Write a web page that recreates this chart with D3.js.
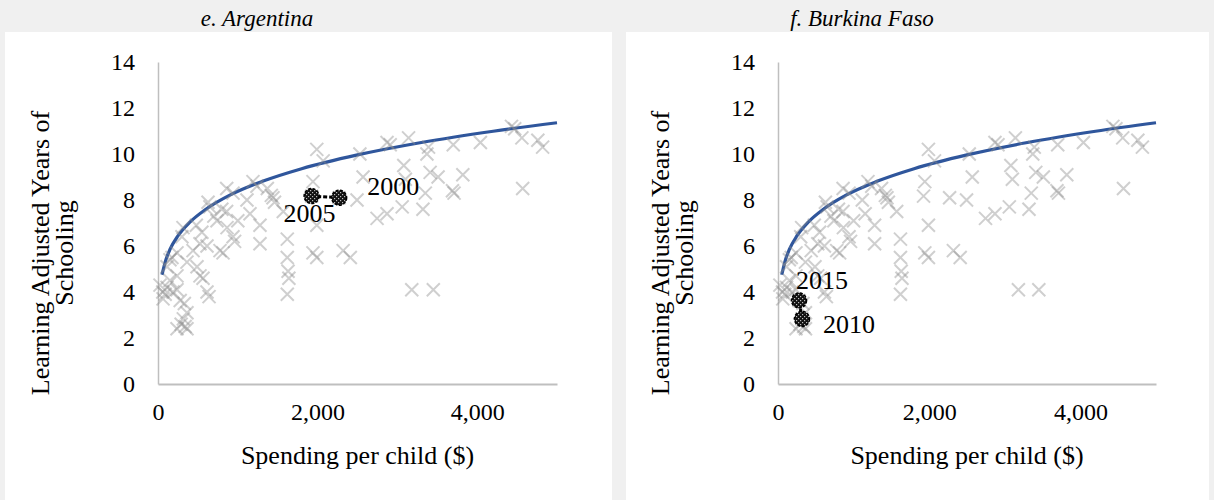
<!DOCTYPE html>
<html>
<head>
<meta charset="utf-8">
<script src="https://cdn.jsdelivr.net/npm/d3@7"></script>
<style>
  html, body { margin: 0; padding: 0; background: #f0f0f0; }
  svg { display: block; }
  svg text { font-family: "Liberation Serif", "Times New Roman", serif; fill: #000; }
</style>
</head>
<body>
<svg id="chart" width="1214" height="500"></svg>
<script>
// Spending per child ($) and learning-adjusted years of schooling, all country-years
const cloudSpending = [
  25, 63, 113, 188, 238, 150, 113, 175, 238, 330, 363, 290, 363, 238, 340, 526, 564, 614, 640, 60, 90,
  150, 238, 300, 313, 363, 439, 489, 526, 614, 627, 739, 777, 815, 865, 861, 940, 960, 1115, 1153,
  1240, 1278, 1278, 1420, 1441, 1460, 940, 650, 700, 550, 800, 1000, 1190, 1370, 1570, 860, 480,
  1620, 1620, 1640, 1630, 1620,
  1990, 2070, 2530, 2870, 2910, 3140, 3080, 3370, 3390, 3700, 4040, 4430, 4470, 4560, 4760, 4820,
  2570, 3100, 3410, 3510, 3820, 1942, 2494, 3350, 3690, 3710, 4570, 2745, 2870, 3060, 3320,
  1990, 2320, 2410, 1942, 1990, 3180, 3450
];
const cloudLays = [
  4.3, 3.7, 4.2, 4.0, 4.1, 4.5, 5.1, 5.5, 4.7, 3.5, 3.1, 2.6, 2.4, 2.4, 2.5, 4.7, 4.6, 4.0, 3.8, 4.0, 3.9,
  5.4, 5.7, 6.4, 6.8, 5.3, 5.8, 5.1, 6.1, 6.0, 7.9, 7.1, 5.8, 5.7, 6.8, 8.5, 6.4, 6.2, 8.0, 7.4,
  8.6, 6.9, 6.1, 8.2, 8.1, 7.9, 8.3, 7.7, 7.3, 6.6, 7.6, 7.1, 8.8, 8.5, 7.5, 7.5, 6.9,
  6.3, 5.5, 4.6, 4.9, 3.9,
  10.2, 9.7, 10.0, 10.5, 10.4, 10.7, 9.5, 10.0, 10.3, 10.4, 10.5, 11.2, 11.1, 10.7, 10.6, 10.3,
  9.0, 8.9, 9.2, 9.0, 9.1, 8.8, 8.0, 8.3, 8.4, 8.3, 8.5, 7.2, 7.4, 7.7, 7.6,
  6.9, 5.8, 5.5, 5.7, 5.5, 4.1, 4.1
];

// Highlighted countries
const argentinaYears = ["2000", "2005"];
const argentinaSpending = [2270, 1925];
const argentinaLays = [8.10, 8.17];

const burkinaYears = ["2010", "2015"];
const burkinaSpending = [317, 278];
const burkinaLays = [2.83, 3.63];

// Fitted trend across all country-years
const trendSpending = [50, 100, 150, 250, 400, 600, 900, 1300, 1800, 2500, 3300, 4200, 5000];
const trendLays = [4.75, 5.41, 5.85, 6.44, 7.04, 7.60, 8.21, 8.80, 9.36, 9.96, 10.50, 10.99, 11.36];

// Axis ticks
const yTicks = [0, 2, 4, 6, 8, 10, 12, 14];
const xTicks = [0, 2000, 4000];

const yTitleLines = ["Learning Adjusted Years of", "Schooling"];
const xTitle = "Spending per child ($)";

const SERIF = "'Liberation Serif', 'Times New Roman', serif";
const svg = d3.select("#chart");

// Pattern used inside the highlighted markers
const defs = svg.append("defs");
const pat = defs.append("pattern")
  .attr("id", "dotfill").attr("patternUnits", "userSpaceOnUse")
  .attr("width", 4).attr("height", 4);
pat.append("rect").attr("width", 4).attr("height", 4).attr("fill", "#111");
pat.append("rect").attr("x", 0).attr("y", 0).attr("width", 1.2).attr("height", 1.2).attr("fill", "#bbb");
pat.append("rect").attr("x", 2).attr("y", 2).attr("width", 1.2).attr("height", 1.2).attr("fill", "#bbb");

const panels = [
  {
    title: "e. Argentina", titleX: 257,
    bg: [5, 612], axisX: 158, axisEnd: 557, yTitleX: [40, 64],
    years: argentinaYears, spending: argentinaSpending, lays: argentinaLays,
    labelOffset: [[54, -11], [-2, 17]]
  },
  {
    title: "f. Burkina Faso", titleX: 862,
    bg: [626, 1209], axisX: 778, axisEnd: 1156, yTitleX: [660, 684],
    years: burkinaYears, spending: burkinaSpending, lays: burkinaLays,
    labelOffset: [[47, 6], [23, -20]]
  }
];

const allSpending = cloudSpending.concat(argentinaSpending, burkinaSpending);
const allLays = cloudLays.concat(argentinaLays, burkinaLays);
const allPoints = allSpending.map((s, i) => ({ s, l: allLays[i] }));

const y = d3.scaleLinear().domain([0, 14]).range([384, 62]);

panels.forEach(p => {
  const g = svg.append("g");

  g.append("rect")
    .attr("x", p.bg[0]).attr("y", 32)
    .attr("width", p.bg[1] - p.bg[0]).attr("height", 468)
    .attr("fill", "#fff");

  g.append("text")
    .attr("x", p.titleX).attr("y", 26)
    .attr("text-anchor", "middle")
    .attr("font-family", SERIF)
    .style("font-size", "23px").style("font-style", "italic")
    .text(p.title);

  const x = d3.scaleLinear().domain([0, 5000]).range([p.axisX, p.axisEnd]);

  // y axis
  const yAx = g.append("g").attr("transform", `translate(${p.axisX},0)`)
    .call(d3.axisLeft(y).tickValues(yTicks).tickSize(0).tickPadding(23));
  yAx.attr("font-family", SERIF).attr("font-size", 24);
  yAx.select(".domain").attr("stroke", "#bfbfbf").attr("stroke-width", 1.5);
  yAx.selectAll("text").attr("font-family", SERIF).style("font-size", "24px");

  // x axis
  const xAx = g.append("g").attr("transform", `translate(0,${y(0)})`)
    .call(d3.axisBottom(x).tickValues(xTicks).tickFormat(d3.format(",")).tickSize(0).tickPadding(28));
  xAx.attr("font-family", SERIF).attr("font-size", 24);
  xAx.select(".domain").attr("stroke", "#bfbfbf").attr("stroke-width", 2);
  xAx.selectAll("text").attr("font-family", SERIF).style("font-size", "24px")
    .attr("dy", "0.35em");

  // axis titles
  const yMid = 253;
  yTitleLines.forEach((line, i) => {
    g.append("text")
      .attr("transform", `translate(${p.yTitleX[i]},${yMid}) rotate(-90)`)
      .attr("text-anchor", "middle").attr("dominant-baseline", "central")
      .attr("font-family", SERIF)
      .style("font-size", "26px")
      .text(line);
  });
  g.append("text")
    .attr("x", (p.axisX + p.axisEnd) / 2).attr("y", 455)
    .attr("text-anchor", "middle").attr("dominant-baseline", "central")
    .attr("font-family", SERIF)
    .style("font-size", "26px")
    .text(xTitle);

  // trend line
  const line = d3.line().x(d => x(d)).y((d, i) => y(trendLays[i])).curve(d3.curveMonotoneX);
  g.append("path")
    .datum(trendSpending)
    .attr("d", line)
    .attr("fill", "none").attr("stroke", "#2f569c").attr("stroke-width", 3.2);

  // all country-years as crosses
  const arm = 6.5;
  g.append("g").selectAll("path").data(allPoints).join("path")
    .attr("transform", d => `translate(${x(d.s)},${y(d.l)})`)
    .attr("d", `M${-arm},${-arm}L${arm},${arm}M${-arm},${arm}L${arm},${-arm}`)
    .attr("stroke", "#8c8c8c").attr("stroke-opacity", 0.42).attr("stroke-width", 2)
    .attr("fill", "none");

  // highlighted country path
  const hl = p.spending.map((s, i) => ({ s, l: p.lays[i], year: p.years[i], off: p.labelOffset[i] }));
  g.append("path")
    .datum(hl)
    .attr("d", d3.line().x(d => x(d.s)).y(d => y(d.l)))
    .attr("fill", "none").attr("stroke", "#000").attr("stroke-width", 3)
    .attr("stroke-dasharray", "4,2");
  g.append("g").selectAll("circle").data(hl).join("circle")
    .attr("cx", d => x(d.s)).attr("cy", d => y(d.l)).attr("r", 7.5)
    .attr("fill", "url(#dotfill)")
    .attr("stroke", "#000").attr("stroke-width", 1.5).attr("stroke-dasharray", "3,1.5");
  g.append("g").selectAll("text").data(hl).join("text")
    .attr("x", d => x(d.s) + d.off[0]).attr("y", d => y(d.l) + d.off[1])
    .attr("text-anchor", "middle").attr("dominant-baseline", "central")
    .attr("font-family", SERIF)
    .style("font-size", "26px")
    .text(d => d.year);
});
</script>
</body>
</html>
